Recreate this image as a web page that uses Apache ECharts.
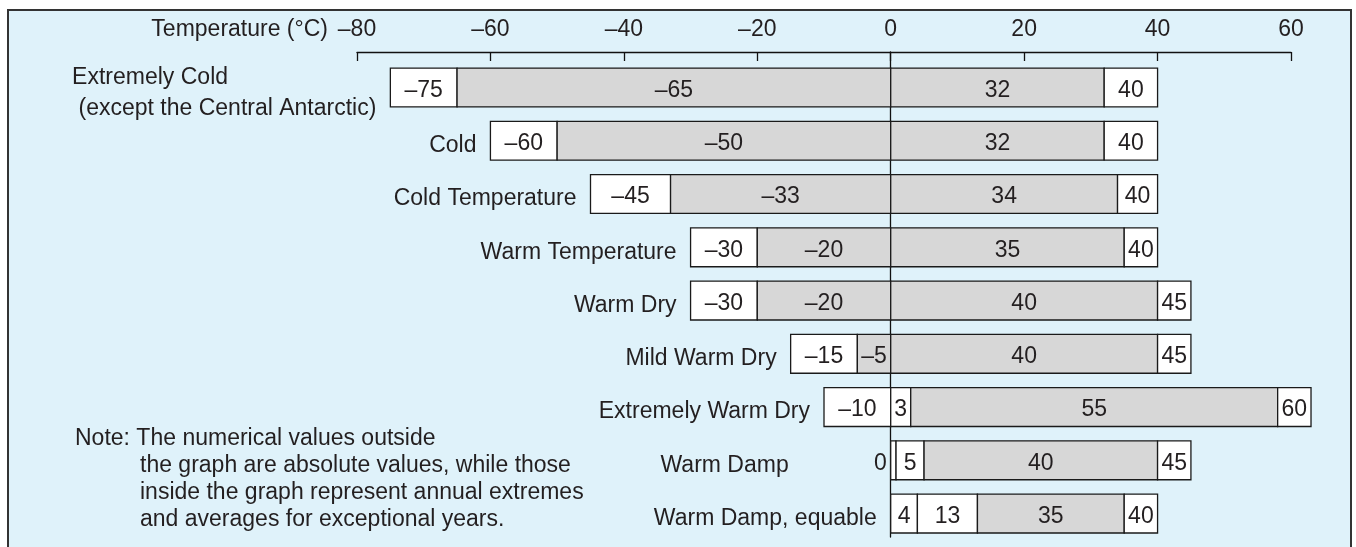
<!DOCTYPE html>
<html>
<head>
<meta charset="utf-8">
<script src="https://cdn.jsdelivr.net/npm/echarts/dist/echarts.min.js"></script>
<style>
  html, body { margin: 0; padding: 0; background: #fff; }
  #chart { width: 1356px; height: 547px; }
</style>
</head>
<body>
<div id="chart"></div>
<script>
// climate zones, top to bottom
const categories = [
  'Extremely Cold\n (except the Central Antarctic)',
  'Cold',
  'Cold Temperature',
  'Warm Temperature',
  'Warm Dry',
  'Mild Warm Dry',
  'Extremely Warm Dry',
  'Warm Damp',
  'Warm Damp, equable'
]
// edges of the segments of each bar (°C), left to right
const edges = [
  [-75, -65, 0, 32, 40],
  [-60, -50, 0, 32, 40],
  [-45, -33, 0, 34, 40],
  [-30, -20, 0, 35, 40],
  [-30, -20, 0, 40, 45],
  [-15, -5, 0, 40, 45],
  [-10, 0, 3, 58, 63],
  [0, 0.8, 5, 40, 45],
  [0, 4, 13, 35, 40]
]
// text written in each segment
const segLabels = [
  ['–75', '–65', '32', '40'],
  ['–60', '–50', '32', '40'],
  ['–45', '–33', '34', '40'],
  ['–30', '–20', '35', '40'],
  ['–30', '–20', '40', '45'],
  ['–15', '–5', '40', '45'],
  ['–10', '3', '55', '60'],
  ['0', '5', '40', '45'],
  ['4', '13', '35', '40']
]
// 1 = annual extremes (shaded), 0 = absolute values
const shaded = [
  [0, 1, 1, 0],
  [0, 1, 1, 0],
  [0, 1, 1, 0],
  [0, 1, 1, 0],
  [0, 1, 1, 0],
  [0, 1, 1, 0],
  [0, 0, 1, 0],
  [0, 0, 1, 0],
  [0, 0, 1, 0]
]
const xTicks = { min: -80, max: 60, step: 20 }
const noteLines = [
  'Note: The numerical values outside',
  'the graph are absolute values, while those',
  'inside the graph represent annual extremes',
  'and averages for exceptional years.'
]

const FONT_FAMILY = '"Liberation Sans", Arial, Helvetica, sans-serif'
const FONT_SIZE = 23
const FONT = FONT_SIZE + 'px ' + FONT_FAMILY
const INK = '#231f20'
const GRAY = '#d7d7d7'

// one data item per segment
const segs = []
edges.forEach((row, i) => {
  for (let j = 0; j < row.length - 1; j++) {
    segs.push({ from: row[j], to: row[j + 1], row: i, text: segLabels[i][j], shade: shaded[i][j], first: j === 0 })
  }
})

function richLines (txt) {
  return txt.split('\n').map(l => '{n|' + l + '}').join('\n')
}

function renderSeg (params, api) {
  const s = segs[params.dataIndex]
  const p0 = api.coord([s.from, s.row])
  const p1 = api.coord([s.to, s.row])
  const h = api.size([0, 0.73])[1]
  const w = p1[0] - p0[0]
  const children = [{
    type: 'rect',
    shape: { x: p0[0], y: p0[1] - h / 2, width: w, height: h },
    style: { fill: s.shade ? GRAY : '#ffffff', stroke: '#1a1a1a', lineWidth: 1.3 }
  }]
  const outside = w < 10
  if (s.text) {
    const a = outside ? 'right' : 'center'
    children.push({
      type: 'text',
      x: outside ? p0[0] - 4 : p0[0] + w / 2,
      y: p0[1] + 3,
      style: { text: s.text, font: FONT, fill: INK, align: a, textAlign: a, verticalAlign: 'middle', textVerticalAlign: 'middle' }
    })
  }
  if (s.first) {
    const multi = categories[s.row].indexOf('\n') >= 0
    children.push({
      type: 'text',
      x: p0[0] - 14 - (outside ? 88 : 0),
      y: p0[1] + (multi ? 6 : 5),
      style: {
        text: richLines(categories[s.row]),
        fill: INK,
        font: FONT,
        align: 'right',
        textAlign: 'right',
        verticalAlign: 'middle',
        textVerticalAlign: 'middle',
        // lines of a two-line name start at the same left edge
        rich: { n: { fontSize: FONT_SIZE, fontFamily: FONT_FAMILY, lineHeight: 31, fill: INK, align: 'left' } }
      }
    })
  }
  return { type: 'group', children }
}

const chart = echarts.init(document.getElementById('chart'))
chart.setOption({
  backgroundColor: '#dff2fa',
  animation: false,
  grid: { left: 357, right: 65, top: 52, bottom: 10, containLabel: false, outerBoundsMode: 'none' },
  xAxis: {
    type: 'value',
    position: 'top',
    min: xTicks.min,
    max: xTicks.max,
    interval: xTicks.step,
    axisLine: { show: true, onZero: false, lineStyle: { color: '#111', width: 1.3 } },
    axisTick: { show: true, inside: true, length: 9, lineStyle: { color: '#111', width: 1.3 } },
    axisLabel: {
      formatter: v => String(v).replace('-', '–'),
      fontSize: FONT_SIZE,
      fontFamily: FONT_FAMILY,
      color: INK,
      margin: 11
    },
    splitLine: { show: false }
  },
  yAxis: {
    type: 'value',
    inverse: true,
    min: -0.667,
    max: 8.44,
    axisLine: { show: true, onZero: true, lineStyle: { color: '#111', width: 1.3 } },
    axisTick: { show: false },
    axisLabel: { show: false },
    splitLine: { show: false }
  },
  series: [{
    type: 'custom',
    renderItem: renderSeg,
    encode: { x: [0, 1], y: 2 },
    data: segs.map(s => [s.from, s.to, s.row]),
    silent: true
  }],
  graphic: [
    // white margin outside the framed panel
    { type: 'rect', silent: true, shape: { x: 0, y: 0, width: 1356, height: 10 }, style: { fill: '#fff' } },
    { type: 'rect', silent: true, shape: { x: 0, y: 0, width: 8, height: 547 }, style: { fill: '#fff' } },
    { type: 'rect', silent: true, shape: { x: 1352, y: 0, width: 4, height: 547 }, style: { fill: '#fff' } },
    { type: 'polyline', silent: true, shape: { points: [[8, 547], [8, 10], [1351, 10], [1351, 547]] }, style: { stroke: '#333', lineWidth: 2, fill: null } },
    {
      type: 'text', x: 328, y: 30,
      style: { text: 'Temperature (°C)', font: FONT, fill: INK, align: 'right', textAlign: 'right', verticalAlign: 'middle', textVerticalAlign: 'middle' }
    },
    {
      type: 'text', x: 75, y: 439,
      style: { text: noteLines[0], font: FONT, fill: INK, align: 'left', textAlign: 'left', verticalAlign: 'middle', textVerticalAlign: 'middle' }
    },
    {
      type: 'text', x: 140, y: 452.7,
      style: { text: noteLines.slice(1).join('\n'), font: FONT, fill: INK, lineHeight: 26.6, align: 'left', textAlign: 'left', verticalAlign: 'top', textVerticalAlign: 'top' }
    }
  ]
})
</script>
</body>
</html>
